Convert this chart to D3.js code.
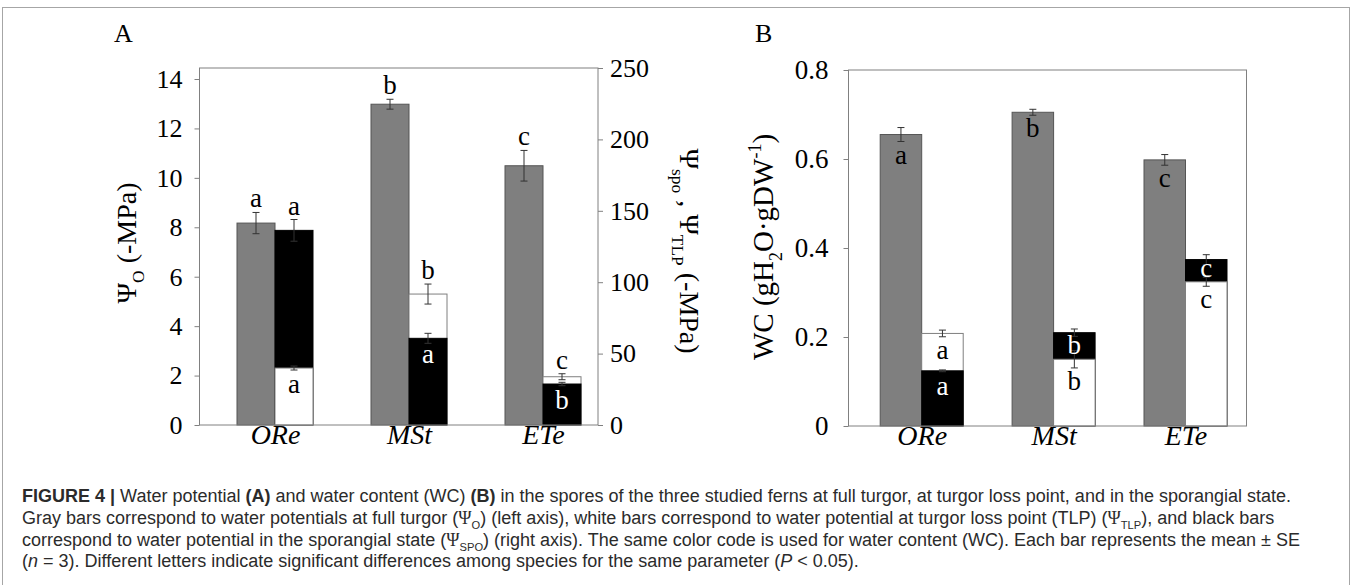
<!DOCTYPE html>
<html>
<head>
<meta charset="utf-8">
<script src="https://cdn.jsdelivr.net/npm/d3@7"></script>
<style>
  body { margin: 0; background: #fff; }
  svg { display: block; }
</style>
</head>
<body>
<svg id="chart"></svg>
<script>
let width = 1355;
let height = 585;

// species (x categories)
const species = ['ORe', 'MSt', 'ETe'];

// panel A: water potentials
const psiO = [8.17, 12.98, 10.49];        // gray, left axis
const psiOErr = [0.43, 0.2, 0.62];
const psiOLetters = ['a', 'b', 'c'];
const psiTLP = [39.9, 91.7, 33.8];        // white, right axis
const psiTLPErr = [1.4, 7, 2.1];
const psiTLPLetters = ['a', 'b', 'c'];
const psiSPO = [136.3, 60.7, 28.7];       // black, right axis
const psiSPOErr = [7.6, 3.5, 1.2];
const psiSPOLetters = ['a', 'a', 'b'];

// panel B: water content
const wcFull = [0.655, 0.705, 0.598];
const wcFullErr = [0.0157, 0.0067, 0.012];
const wcFullLetters = ['a', 'b', 'c'];
const wcTLP = [0.208, 0.150, 0.324];
const wcTLPErr = [0.0075, 0.0195, 0.010];
const wcTLPLetters = ['a', 'b', 'c'];
const wcSPO = [0.124, 0.2097, 0.374];
const wcSPOErr = [0.002, 0.0083, 0.011];
const wcSPOLetters = ['a', 'b', 'c'];

// tick labels
const ticksALeft = [0, 2, 4, 6, 8, 10, 12, 14];
const ticksARight = [0, 50, 100, 150, 200, 250];
const ticksB = [0, 0.2, 0.4, 0.6, 0.8];

const serif = 'Liberation Serif, Times New Roman, serif';
const sans = 'Liberation Sans, Arial, sans-serif';
const gray = '#7f7f7f';
const axisColor = '#808080';
const letterSize = 27;

let svg = d3.select('#chart').attr('width', width).attr('height', height);

// outer figure border
svg.append('rect')
    .attr('x', 2.5).attr('y', 7.5)
    .attr('width', 1347).attr('height', 620)
    .attr('fill', 'none').attr('stroke', '#a6a6a6');

// append text made of parts (bold / italic / sub / sup)
const richText = (sel, parts, size) => {
    let shift = 0;
    parts.forEach(p => {
        let ts = sel.append('tspan').text(p.t);
        let target = p.sub ? size * 0.3 : p.sup ? -size * 0.42 : 0;
        if (target !== shift) ts.attr('dy', target - shift);
        shift = target;
        if (p.sub || p.sup) ts.attr('font-size', size * 0.62);
        if (p.b) ts.attr('font-weight', 'bold');
        if (p.i) ts.attr('font-style', 'italic');
        if (p.f) ts.attr('font-family', p.f);
    });
};

const styleAxis = (g, size) => {
    g.select('.domain').remove();
    g.selectAll('.tick line').attr('stroke', axisColor);
    g.selectAll('.tick text')
        .attr('font-family', serif)
        .attr('font-size', size)
        .attr('fill', '#000');
};

const drawErr = (g, x, y, v, e, cap) => {
    g.append('line')
        .attr('x1', x).attr('x2', x)
        .attr('y1', y(v + e)).attr('y2', y(v - e))
        .attr('stroke', '#333').attr('stroke-width', 1);
    [v + e, v - e].forEach(val => {
        g.append('line')
            .attr('x1', x - cap).attr('x2', x + cap)
            .attr('y1', y(val)).attr('y2', y(val))
            .attr('stroke', '#333').attr('stroke-width', 1);
    });
};

const letter = (g, x, yPos, txt, color) => {
    g.append('text')
        .attr('x', x).attr('y', yPos)
        .attr('text-anchor', 'middle')
        .attr('font-family', serif)
        .attr('font-size', letterSize)
        .attr('fill', color)
        .text(txt);
};

// build the overlapping pair (white TLP and black SPO) for each species
const pairs = (tlp, tlpErr, tlpL, spo, spoErr, spoL) => species.map((s, i) => {
    let items = [
        {sp: s, v: tlp[i], e: tlpErr[i], l: tlpL[i], fill: '#fff', stroke: gray, txt: '#000'},
        {sp: s, v: spo[i], e: spoErr[i], l: spoL[i], fill: '#000', stroke: '#000', txt: '#fff'}
    ];
    items.sort((a, b) => b.v - a.v);   // larger one is drawn behind
    return {back: items[0], front: items[1]};
});

const catAxis = (g) => {
    g.select('.domain').remove();
    g.selectAll('.tick text')
        .attr('font-family', serif).attr('font-size', 28)
        .attr('font-style', 'italic').attr('fill', '#000')
        .attr('dy', 19);
};

// ---------------- panel A ----------------
const A = {left: 199.5, right: 598, top: 68, bottom: 425, barW: 38};

const xA = d3.scalePoint().domain(species).range([A.left + 75.5, A.right - 55]);
const yA = d3.scaleLinear().domain([0, 14]).range([A.bottom, 79]);
const yA2 = d3.scaleLinear().domain([0, 250]).range([A.bottom, A.top]);

let gA = svg.append('g');

gA.append('text').attr('x', 114).attr('y', 42)
    .attr('font-family', serif).attr('font-size', 26).text('A');

// gray bars
gA.selectAll('.grayA')
    .data(species)
    .enter()
    .append('rect')
    .attr('class', 'grayA')
    .attr('x', d => xA(d) - A.barW)
    .attr('width', A.barW)
    .attr('y', (d, i) => yA(psiO[i]))
    .attr('height', (d, i) => A.bottom - yA(psiO[i]))
    .attr('fill', gray).attr('stroke', '#555');

const pairsA = pairs(psiTLP, psiTLPErr, psiTLPLetters, psiSPO, psiSPOErr, psiSPOLetters);

pairsA.forEach(p => {
    [p.back, p.front].forEach(it => {
        gA.append('rect')
            .attr('x', xA(it.sp))
            .attr('width', A.barW)
            .attr('y', yA2(it.v))
            .attr('height', A.bottom - yA2(it.v))
            .attr('fill', it.fill).attr('stroke', it.stroke);
    });
});

// error bars + letters A
species.forEach((s, i) => {
    let cx = xA(s) - A.barW / 2;
    drawErr(gA, cx, yA, psiO[i], psiOErr[i], 3.5);
    letter(gA, cx, yA(psiO[i] + psiOErr[i]) - 5, psiOLetters[i], '#000');
});
pairsA.forEach(p => {
    let cx = xA(p.back.sp) + A.barW / 2;
    drawErr(gA, cx, yA2, p.back.v, p.back.e, 3.5);
    drawErr(gA, cx, yA2, p.front.v, p.front.e, 3.5);
    letter(gA, cx, yA2(p.back.v + p.back.e) - 5, p.back.l, '#000');
    letter(gA, cx, yA2(p.front.v) + 25, p.front.l, p.front.txt);
});

// frame and axes A
gA.append('rect')
    .attr('x', A.left).attr('y', A.top)
    .attr('width', A.right - A.left).attr('height', A.bottom - A.top)
    .attr('fill', 'none').attr('stroke', axisColor);

gA.append('g')
    .attr('transform', `translate(${A.left}, 0)`)
    .call(d3.axisLeft(yA).tickValues(ticksALeft).tickSize(5).tickPadding(12).tickFormat(d3.format('d')))
    .call(g => styleAxis(g, 26));

gA.append('g')
    .attr('transform', `translate(${A.right}, 0)`)
    .call(d3.axisRight(yA2).tickValues(ticksARight).tickSize(5).tickPadding(7).tickFormat(d3.format('d')))
    .call(g => styleAxis(g, 26));

gA.append('g')
    .attr('transform', `translate(0, ${A.bottom})`)
    .call(d3.axisBottom(xA).tickSize(0).tickPadding(0))
    .call(catAxis);

// axis titles A
let tA1 = gA.append('text')
    .attr('transform', 'translate(136, 243) rotate(-90)')
    .attr('text-anchor', 'middle')
    .attr('font-family', serif).attr('font-size', 28);
richText(tA1, [{t: 'Ψ'}, {t: 'O', sub: true}, {t: ' (-MPa)'}], 28);

let tA2 = gA.append('text')
    .attr('transform', 'translate(680, 251) rotate(90)')
    .attr('text-anchor', 'middle')
    .attr('font-family', serif).attr('font-size', 28);
richText(tA2, [{t: 'Ψ'}, {t: 'spo', sub: true}, {t: ' , Ψ'}, {t: 'TLP', sub: true}, {t: '  (-MPa)'}], 28);

// ---------------- panel B ----------------
const B = {left: 848.5, right: 1246.5, top: 70, bottom: 426, barW: 41.5};

const xB = d3.scalePoint().domain(species).range([B.left + 73.2, B.right - 61]);
const yB = d3.scaleLinear().domain([0, 0.8]).range([B.bottom, B.top]);

let gB = svg.append('g');

gB.append('text').attr('x', 755).attr('y', 42)
    .attr('font-family', serif).attr('font-size', 26).text('B');

gB.selectAll('.grayB')
    .data(species)
    .enter()
    .append('rect')
    .attr('class', 'grayB')
    .attr('x', d => xB(d) - B.barW)
    .attr('width', B.barW)
    .attr('y', (d, i) => yB(wcFull[i]))
    .attr('height', (d, i) => B.bottom - yB(wcFull[i]))
    .attr('fill', gray).attr('stroke', '#555');

const pairsB = pairs(wcTLP, wcTLPErr, wcTLPLetters, wcSPO, wcSPOErr, wcSPOLetters);

pairsB.forEach(p => {
    [p.back, p.front].forEach(it => {
        gB.append('rect')
            .attr('x', xB(it.sp))
            .attr('width', B.barW)
            .attr('y', yB(it.v))
            .attr('height', B.bottom - yB(it.v))
            .attr('fill', it.fill).attr('stroke', it.stroke);
    });
});

const insideY = (v, e) => Math.max(yB(v) + 24, yB(v - e) + 22);

species.forEach((s, i) => {
    let cx = xB(s) - B.barW / 2;
    drawErr(gB, cx, yB, wcFull[i], wcFullErr[i], 3.5);
    letter(gB, cx, insideY(wcFull[i], wcFullErr[i]), wcFullLetters[i], '#000');
});
pairsB.forEach(p => {
    let cx = xB(p.back.sp) + B.barW / 2;
    drawErr(gB, cx, yB, p.back.v, p.back.e, 3.5);
    drawErr(gB, cx, yB, p.front.v, p.front.e, 3.5);
    letter(gB, cx, Math.min(insideY(p.back.v, p.back.e), yB(p.front.v) - 5), p.back.l, p.back.txt);
    letter(gB, cx, insideY(p.front.v, p.front.e), p.front.l, p.front.txt);
});

gB.append('rect')
    .attr('x', B.left).attr('y', B.top)
    .attr('width', B.right - B.left).attr('height', B.bottom - B.top)
    .attr('fill', 'none').attr('stroke', axisColor);

gB.append('g')
    .attr('transform', `translate(${B.left}, 0)`)
    .call(d3.axisLeft(yB).tickValues(ticksB).tickSize(5).tickPadding(15)
        .tickFormat(d => d === 0 ? '0' : d3.format('.1f')(d)))
    .call(g => styleAxis(g, 27));

gB.append('g')
    .attr('transform', `translate(0, ${B.bottom})`)
    .call(d3.axisBottom(xB).tickSize(0).tickPadding(0))
    .call(catAxis);

let tB = gB.append('text')
    .attr('transform', 'translate(773, 247) rotate(-90)')
    .attr('text-anchor', 'middle')
    .attr('font-family', serif).attr('font-size', 29);
richText(tB, [{t: 'WC (gH'}, {t: '2', sub: true}, {t: 'O·gDW'}, {t: '-1', sup: true}, {t: ')'}], 29);

// ---------------- caption ----------------
const capLines = [
    [{t: 'FIGURE 4 | ', b: true}, {t: 'Water potential '}, {t: '(A)', b: true}, {t: ' and water content (WC) '}, {t: '(B)', b: true},
     {t: ' in the spores of the three studied ferns at full turgor, at turgor loss point, and in the sporangial state.'}],
    [{t: 'Gray bars correspond to water potentials at full turgor ('}, {t: 'Ψ', f: serif}, {t: 'O', sub: true},
     {t: ') (left axis), white bars correspond to water potential at turgor loss point (TLP) ('}, {t: 'Ψ', f: serif}, {t: 'TLP', sub: true},
     {t: '), and black bars'}],
    [{t: 'correspond to water potential in the sporangial state ('}, {t: 'Ψ', f: serif}, {t: 'SPO', sub: true},
     {t: ') (right axis). The same color code is used for water content (WC). Each bar represents the mean ± SE'}],
    [{t: '('}, {t: 'n', i: true}, {t: ' = 3). Different letters indicate significant differences among species for the same parameter ('},
     {t: 'P', i: true}, {t: ' < 0.05).'}]
];

capLines.forEach((parts, i) => {
    let t = svg.append('text')
        .attr('x', 22).attr('y', 502 + i * 21.8)
        .attr('font-family', sans).attr('font-size', 18)
        .attr('fill', '#2b2b2b');
    richText(t, parts, 18);
});
</script>
</body>
</html>
